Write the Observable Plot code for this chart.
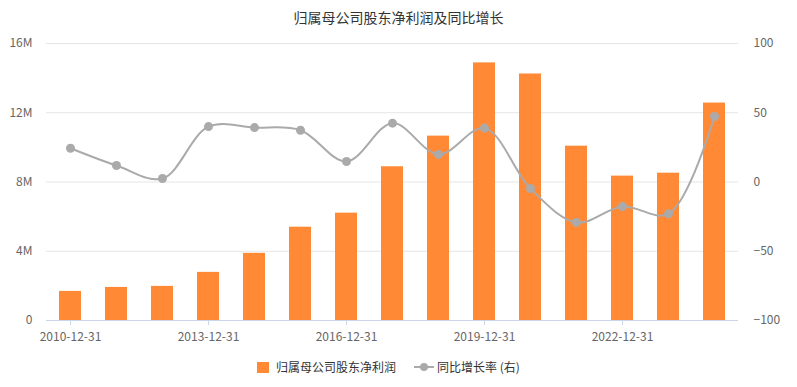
<!DOCTYPE html>
<html>
<head>
<meta charset="utf-8">
<script src="https://cdn.jsdelivr.net/npm/d3@7"></script>
<script src="https://cdn.jsdelivr.net/npm/@observablehq/plot@0.6"></script>
<style>
  body { margin: 0; background: #fff; font-family: "Noto Sans CJK SC", "Noto Sans", sans-serif; }
  #wrap { width: 797px; height: 387px; position: relative; }
  #title { height: 34px; line-height: 34px; text-align: center; font-size: 14px; color: #333; padding-left: 0; }
  #legend { position: absolute; top: 357px; left: 0; width: 797px; height: 20px; font-size: 12px; color: #333; }
  .item { position: absolute; top: 0; height: 20px; line-height: 20px; white-space: nowrap; }
</style>
</head>
<body>
<div id="wrap">
  <div id="title">归属母公司股东净利润及同比增长</div>
  <div id="chart"></div>
  <div id="legend">
    <div class="item" style="left:257px;"><span style="display:inline-block;width:12px;height:11px;background:#FF8935;vertical-align:-1px;margin-right:7px;"></span>归属母公司股东净利润</div>
    <div class="item" style="left:414px;">
      <svg width="20" height="12" style="vertical-align:-1px;margin-right:3px;"><line x1="0" y1="6" x2="20" y2="6" stroke="#AAAAAA" stroke-width="2"/><circle cx="10" cy="6" r="4" fill="#AAAAAA"/></svg>同比增长率 (右)
    </div>
  </div>
</div>
<script>
const dates = ["2010-12-31","2011-12-31","2012-12-31","2013-12-31","2014-12-31","2015-12-31","2016-12-31","2017-12-31","2018-12-31","2019-12-31","2020-12-31","2021-12-31","2022-12-31","2023-12-31","2024-12-31"];
const profit = [1.68e6, 1.91e6, 1.97e6, 2.78e6, 3.88e6, 5.39e6, 6.2e6, 8.88e6, 10.65e6, 14.88e6, 14.24e6, 10.07e6, 8.34e6, 8.51e6, 12.56e6];
const growth = [24.4, 11.9, 2.5, 40.0, 39.3, 37.4, 14.8, 42.5, 19.9, 38.9, -4.7, -29.2, -17.7, -23.0, 47.3];
const xTicks = ["2010-12-31","2013-12-31","2016-12-31","2019-12-31","2022-12-31"];
const leftTicks = [0, 4e6, 8e6, 12e6, 16e6];
const rightTicks = [-100, -50, 0, 50, 100];

const yMax = 16e6;
const toLeft = v => (v + 100) / 200 * yMax;
const toRight = y => y / yMax * 200 - 100;

const data = dates.map((d, i) => ({date: d, profit: profit[i], growth: growth[i], gy: toLeft(growth[i])}));

const chart = Plot.plot({
  width: 797,
  height: 310,
  marginTop: 9,
  marginBottom: 24,
  marginLeft: 46,
  marginRight: 59,
  style: {fontFamily: '"Noto Sans CJK SC", "Noto Sans", sans-serif', fontSize: "12px", color: "#666", background: "#fff"},
  x: {domain: dates, paddingInner: 0.52, paddingOuter: 0.26, label: null},
  y: {domain: [0, yMax], label: null},
  marks: [
    Plot.gridY(leftTicks, {stroke: "#E6E6E6", strokeOpacity: 1}),
    Plot.axisY(leftTicks, {anchor: "left", tickSize: 0, tickPadding: 14, label: null,
      tickFormat: d => d === 0 ? "0" : (d / 1e6) + "M", fill: "#666"}),
    Plot.axisY(leftTicks, {anchor: "right", tickSize: 0, tickPadding: 15, label: null, textAnchor: "start",
      tickFormat: d => String(Math.round(toRight(d))).replace("-", "\u2212"), fill: "#666"}),
    Plot.barY(data, {x: "date", y: "profit", fill: "#FF8935"}),
    Plot.ruleY([0], {stroke: "#CCD6EB"}),
    Plot.axisX(xTicks, {tickSize: 5, tickPadding: 7, stroke: "#CCD6EB", fill: "#666", label: null}),
    Plot.line(data, {x: "date", y: "gy", stroke: "#AAAAAA", strokeWidth: 2, curve: "catmull-rom"}),
    Plot.dot(data, {x: "date", y: "gy", fill: "#AAAAAA", r: 4.5})
  ]
});
document.getElementById("chart").appendChild(chart);
</script>
</body>
</html>
